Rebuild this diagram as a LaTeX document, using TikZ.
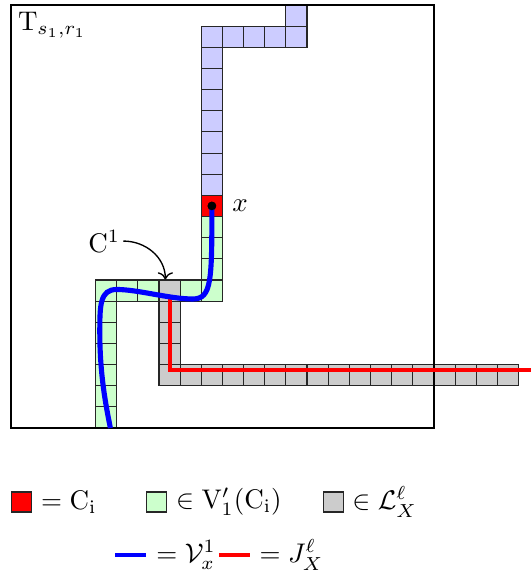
\documentclass[tikz,border=0pt]{standalone}
\usepackage{tikz}
\usepackage{xcolor}
\usepackage{amsmath}
\usepackage{amssymb}
\usetikzlibrary{arrows.meta, positioning}

\tikzset{
    cellbox/.style={draw=black!85, line width=0.4pt},
    purplecell/.style={cellbox, fill=blue!20},
    greencell/.style={cellbox, fill=green!20},
    graycell/.style={cellbox, fill=black!20},
    redcell/.style={cellbox, fill=red},
    keybox/.style={cellbox, minimum size=0.26cm, inner sep=0pt},
    keytext/.style={anchor=west, inner sep=0pt},
    bluepath/.style={blue, line width=1.9pt},
    redpath/.style={red, line width=1.5pt},
}

\begin{document}
\begin{tikzpicture}[x=0.2756cm, y=0.2756cm]
                    \useasboundingbox (-0.52,-7.0) rectangle (24.59,20.24);
                    \foreach \j in {11,...,17} \draw[purplecell] (9,\j) rectangle ++(1,1);
                    \foreach \i in {9,...,13} \draw[purplecell] (\i,18) rectangle ++(1,1);
                    \draw[purplecell] (13,19) rectangle ++(1,1);
                    \draw[redcell] (9,10) rectangle ++(1,1);
                    \foreach \j in {6,...,9} \draw[greencell] (9,\j) rectangle ++(1,1);
                    \foreach \i in {4,5,6,8} \draw[greencell] (\i,6) rectangle ++(1,1);
                    \foreach \j in {0,...,5} \draw[greencell] (4,\j) rectangle ++(1,1);
                    \foreach \j in {2,...,6} \draw[graycell] (7,\j) rectangle ++(1,1);
                    \foreach \i in {8,...,23} \draw[graycell] (\i,2) rectangle ++(1,1);
                    \draw[line width=0.7pt] (0,0) rectangle (20,20);
                    \node[anchor=north west, inner sep=2.4pt] (tsr) at (0,20) {$\mathrm{T}_{s_1,r_1}$};
                    \coordinate (rtop) at (7.5,6.1);
                    \coordinate (rbend) at (7.5,2.72);
                    \coordinate (rend) at (24.6,2.72);
                    \draw[redpath] (rtop) -- (rbend) -- (rend);
                    \node[circle, fill=black, inner sep=0pt, minimum size=3.2pt] (xdot) at (9.5,10.5) {};
                    \coordinate (bend) at (4.7,0);
                    \draw[bluepath] (xdot.center) .. controls (9.5,7) and (9.5,6.1) .. (8.6,6.1)
                        .. controls (7.5,6.1) and (6,6.55) .. (5,6.55)
                        .. controls (4.2,6.55) and (4.2,5.8) .. (4.2,4.5)
                        .. controls (4.2,2.5) and (4.5,1) .. (bend);
                    \node[circle, fill=black, inner sep=0pt, minimum size=3.2pt] at (xdot) {};
                    \node (xlab) at (10.83,10.5) {$x$};
                    \node[inner sep=1pt] (c1) at (4.41,8.84) {$\mathrm{C}^1$};
                    \coordinate (gtop) at (7.3,7.02);
                    \draw[->, line width=0.5pt] (c1.east) to[out=0, in=90] (gtop);
                    \node[keybox, fill=red] (kred) at (0.5,-3.5) {};
                    \node[keytext] (tred) at (1.4,-3.5) {$= \mathrm{C}_\mathrm{i}$};
                    \node[keybox, fill=green!20] (kgreen) at (6.87,-3.5) {};
                    \node[keytext] (tgreen) at (7.78,-3.5) {$\in \mathrm{V}'_1(\mathrm{C}_\mathrm{i})$};
                    \node[keybox, fill=black!20] (kgray) at (15.24,-3.5) {};
                    \node[keytext] (tgray) at (16.12,-3.5) {$\in \mathcal{L}^\ell_X$};
                    \coordinate (kb1) at (4.92,-6);
                    \coordinate (kb2) at (6.38,-6);
                    \draw[bluepath, line width=1.5pt] (kb1) -- (kb2);
                    \node[keytext] (tblue) at (6.85,-6) {$= \mathcal{V}^1_x$};
                    \coordinate (kr1) at (9.83,-6);
                    \coordinate (kr2) at (11.3,-6);
                    \draw[redpath] (kr1) -- (kr2);
                    \node[keytext] (tredline) at (11.73,-6) {$= J^\ell_X$};
                \end{tikzpicture}
\end{document}
